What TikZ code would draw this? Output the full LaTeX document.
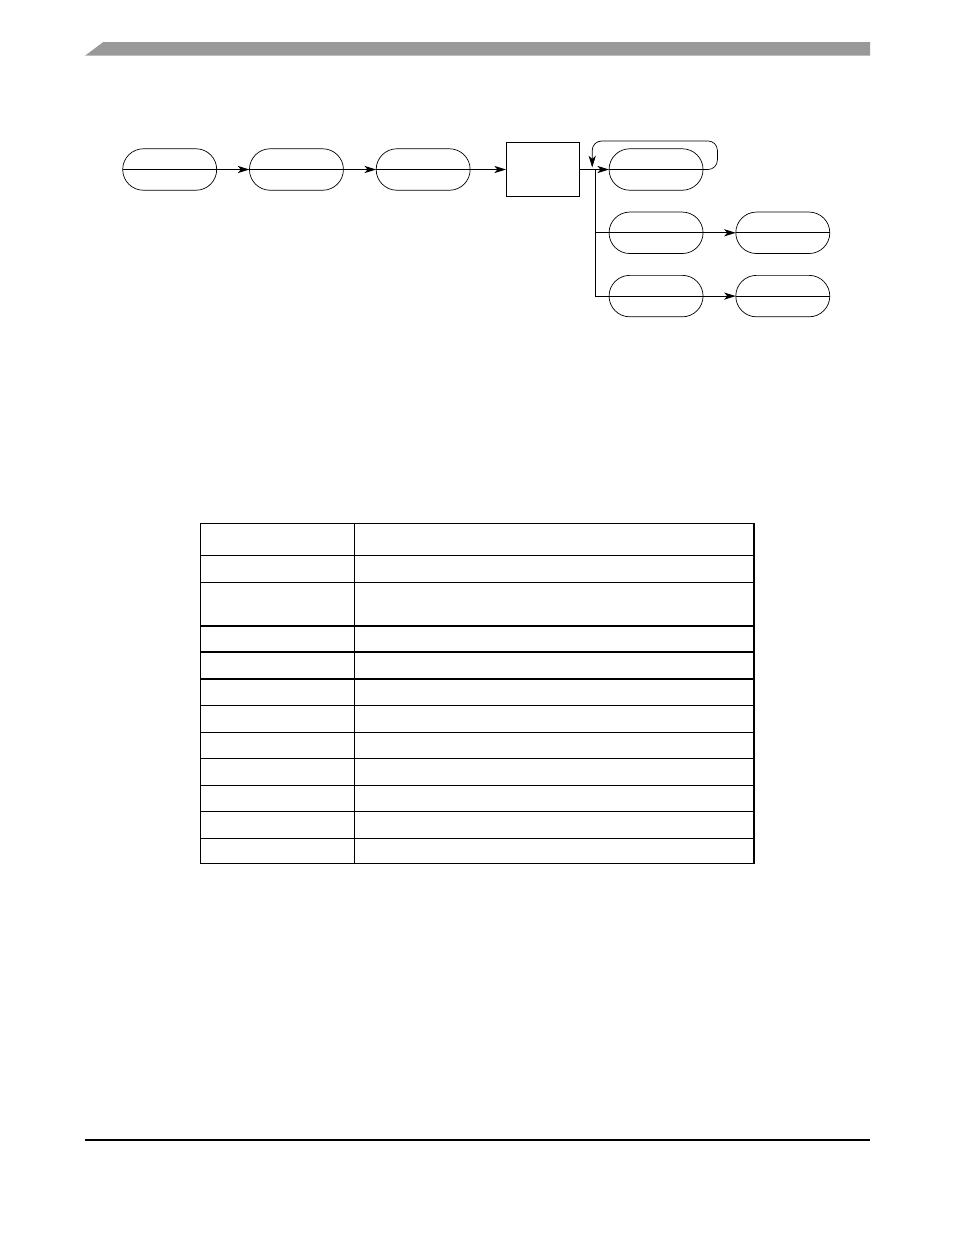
\documentclass[tikz,border=0pt]{standalone}
\usepackage{xcolor}
\colorlet{BARCOLOR}{black!40}
\usetikzlibrary{arrows.meta,positioning}
\tikzset{
  capsule-style/.style = {
    rectangle, draw, line width=0.45pt,
    minimum width=60.3pt,
    minimum height=26.6pt,
    rounded corners=13.3pt,
    inner sep=0pt, outer sep=0pt
  },
  block-style/.style = {
    rectangle, draw, line width=0.6pt,
    minimum width=47.1pt,
    minimum height=34.3pt,
    inner sep=0pt, outer sep=0pt
  },
  flow-style/.style = {
    line width=0.65pt,
    -{Stealth[length=7.5pt,width=4.6pt,inset=2pt]}
  },
  plain-flow-style/.style = {line width=0.65pt},
  loop-style/.style = {
    line width=0.45pt, rounded corners=6pt,
    -{Stealth[length=7.5pt,width=4.6pt,inset=2pt]}
  },
  rule-style/.style = {line width=0.7pt},
  node distance=14pt and 21pt
}

\begin{document}
\begin{tikzpicture}[x=0.6415pt,y=-0.6415pt]
    \useasboundingbox (0,0) rectangle (954,1235);

    %%% page header and footer
    \fill[BARCOLOR] (85,55.7) -- (103,42.2) -- (870,42.2) -- (870,55.7) -- cycle;
    \draw[rule-style] (85,1140) -- (870,1140);

    %%% chain of stages
    \node[capsule-style] (stageA) at (169.7,169.5) {};
    \node[capsule-style,right=of stageA] (stageB) {};
    \node[capsule-style,right=of stageB] (stageC) {};
    \node[block-style,right=23pt of stageC] (select) {};
    \node[capsule-style,right=19pt of select] (loopStage) {};
    \node[capsule-style,below=of loopStage] (pathA) {};
    \node[capsule-style,right=of pathA] (pathAEnd) {};
    \node[capsule-style,below=of pathA] (pathB) {};
    \node[capsule-style,right=of pathB] (pathBEnd) {};
    \coordinate (split) at ([xshift=10.4pt]select.east);
    \coordinate (loopEnd) at ([xshift=-2.2pt,yshift=1.3pt]split);

    %%% arrows
    \draw[flow-style] (stageA.west) -- (stageB.west);
    \draw[flow-style] (stageB.west) -- (stageC.west);
    \draw[flow-style] (stageC.west) -- (select.west);
    \draw[flow-style] (select.east) -- (loopStage.west);
    \draw[plain-flow-style] (loopStage.west) -- (loopStage.east);
    \draw[loop-style] (loopStage.east) -- ++(9.2pt,0) |- ([yshift=17pt]loopEnd) -- (loopEnd);
    \draw[flow-style] (split |- pathA.west) -- (pathAEnd.west);
    \draw[plain-flow-style] (pathAEnd.west) -- (pathAEnd.east);
    \draw[flow-style] (split) |- (pathBEnd.west);
    \draw[plain-flow-style] (pathBEnd.west) -- (pathBEnd.east);

    %%% table
    \draw[rule-style] (200.7,523.3) rectangle (754,863.7);
    \draw[rule-style] (354.7,523.3) -- (354.7,863.7);
    \foreach \y in {555.3,582.3,626,652,679,705.3,732.3,758.3,785.3,811.3,838.4}
      \draw[rule-style] (200.7,\y) -- (754,\y);
\end{tikzpicture}
\end{document}
